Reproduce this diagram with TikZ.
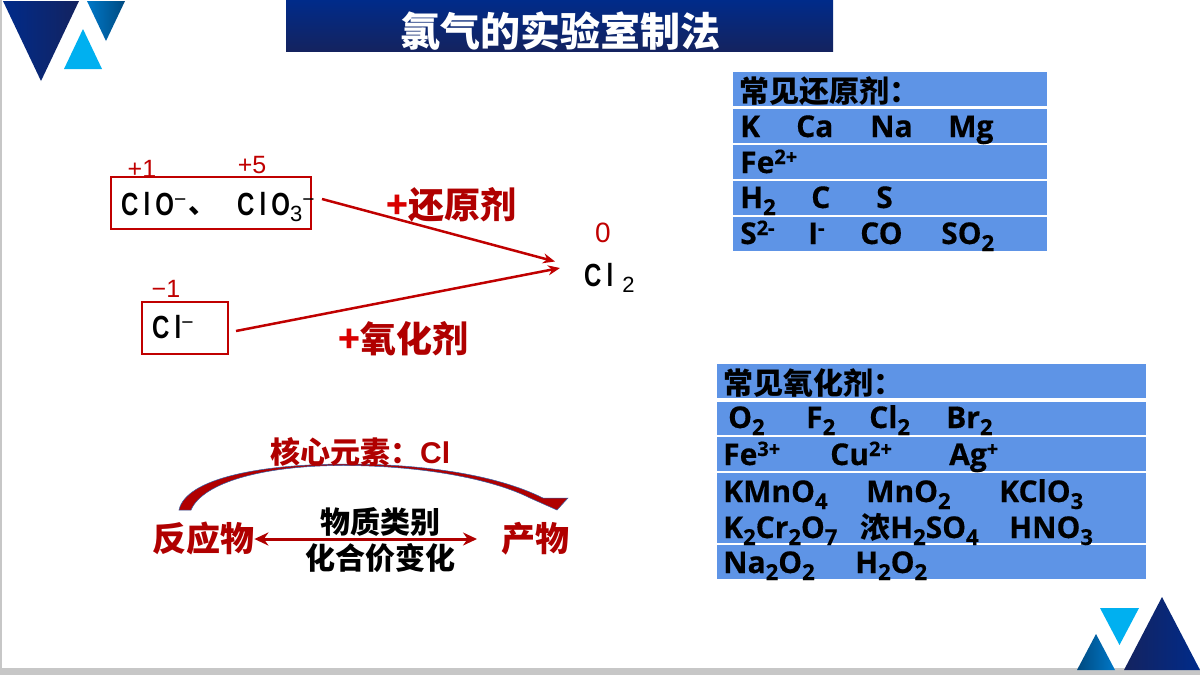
\documentclass[tikz,border=0pt]{standalone}
\usepackage{fontspec}
\setmainfont[BoldFeatures={FakeBold=0.4}]{Open Sans}
\newfontfamily\cjk{Noto Sans CJK SC}
\newfontfamily\arial{Liberation Sans}
\newfontfamily\chem[FakeStretch=0.75,LetterSpace=16]{Liberation Sans}
\usetikzlibrary{arrows.meta}
\definecolor{rowblue}{HTML}{5E94E6}
\definecolor{dred}{HTML}{C00000}
\definecolor{mred}{HTML}{B00000}
\definecolor{navyA}{HTML}{002B8A}
\definecolor{navyB}{HTML}{14235F}
\definecolor{blueA}{HTML}{0078C8}
\definecolor{blueB}{HTML}{004A80}
\definecolor{cyanT}{HTML}{00B0F0}
\definecolor{edgeblue}{HTML}{2F5FA8}
\newcommand{\dn}[1]{\raisebox{-7pt}{\fontsize{22}{22}\selectfont #1}}
\newcommand{\up}[1]{\raisebox{9pt}{\fontsize{20}{20}\selectfont #1}}
\newcommand{\chup}{\raisebox{9pt}{\fontsize{21}{21}\selectfont\arial\mdseries −}}
\newcommand{\chdn}[1]{\raisebox{-6pt}{\fontsize{22}{22}\selectfont\arial\mdseries #1}}
\tikzset{
  rowbar/.style={fill=rowblue,draw=none},
  item/.style={anchor=base west,inner sep=0pt,font=\fontsize{30}{36}\selectfont\bfseries,text=black},
  head/.style={anchor=west,inner sep=0pt,font=\fontsize{30}{36}\selectfont\cjk\bfseries,text=black},
  redlab/.style={anchor=west,inner sep=0pt,font=\fontsize{34}{40}\selectfont\cjk\bfseries,text=mred},
  agentlab/.style={anchor=west,inner sep=0pt,font=\fontsize{36}{40}\selectfont\cjk\bfseries,text=mred},
  blacklab/.style={inner sep=0pt,font=\fontsize{30}{36}\selectfont\cjk\bfseries,text=black},
  oxn/.style={inner sep=0pt,font=\fontsize{25}{30}\selectfont\arial,text=dred},
  chemtxt/.style={anchor=base west,inner sep=0pt,font=\fontsize{32}{36}\selectfont\chem\bfseries,text=black},
  redbox/.style={draw=dred,line width=1.1pt,inner sep=0pt},
  link/.style={draw=dred,line width=2.5pt,-{Stealth[length=12pt,width=10pt]}}
}
\begin{document}
\begin{tikzpicture}[x=1pt,y=-1pt]
\useasboundingbox (0,0) rectangle (1200,675);
\fill[white] (0,0) rectangle (1200,675);
% page edges
\fill[black!22] (0,0) rectangle (2,668);
\fill[black!22] (0,668) rectangle (1200,675);
% logo top left
\shade[left color=navyA,right color=navyB] (3,1) -- (79,1) -- (41,81) -- cycle;
\shade[left color=blueA,right color=blueB] (87,1) -- (125,1) -- (106,41) -- cycle;
\fill[cyanT] (64,69) -- (102,69) -- (83,29) -- cycle;
% logo bottom right
\shade[left color=navyB,right color=navyA] (1124,670) -- (1200,670) -- (1162,597) -- cycle;
\fill[cyanT] (1100,608) -- (1139,608) -- (1119.5,645) -- cycle;
\shade[left color=blueB,right color=blueA] (1077,670) -- (1115,670) -- (1096,634) -- cycle;
% title
\shade[top color=navyA,bottom color=navyB] (286,0) rectangle (833,51);
\node[inner sep=0pt,text=white,font=\fontsize{40}{44}\selectfont\cjk\bfseries] (title) at (560,31) {氯气的实验室制法};
% reducing agents table
\fill[rowbar] (733,72) rectangle (1047,106);
\fill[rowbar] (733,109) rectangle (1047,143);
\fill[rowbar] (733,145) rectangle (1047,179);
\fill[rowbar] (733,181) rectangle (1047,215);
\fill[rowbar] (733,217) rectangle (1047,251);
\node[head] (rh) at (739,91) {常见还原剂：};
\node[item] (r1) at (740,137) {K};
\node[item] (r2) at (796,137) {Ca};
\node[item] (r3) at (870,137) {Na};
\node[item] (r4) at (948,137) {Mg};
\node[item] (r5) at (740,173) {Fe\up{2+}};
\node[item] (r6) at (740,208) {H\dn{2}};
\node[item] (r7) at (811,208) {C};
\node[item] (r8) at (876,208) {S};
\node[item] (r9) at (740,244) {S\up{2-}};
\node[item] (r10) at (808,244) {I\up{-}};
\node[item] (r11) at (860,244) {CO};
\node[item] (r12) at (941,244) {SO\dn{2}};
% oxidising agents table
\fill[rowbar] (717,364) rectangle (1146,398);
\fill[rowbar] (717,402) rectangle (1146,435);
\fill[rowbar] (717,437) rectangle (1146,471);
\fill[rowbar] (717,473) rectangle (1146,543);
\fill[rowbar] (717,545) rectangle (1146,579);
\node[head] (oh) at (723,383) {常见氧化剂：};
\node[item] (o1) at (728,428) {O\dn{2}};
\node[item] (o2) at (806,428) {F\dn{2}};
\node[item] (o3) at (869,428) {Cl\dn{2}};
\node[item] (o4) at (946,428) {Br\dn{2}};
\node[item] (o5) at (723,465) {Fe\up{3+}};
\node[item] (o6) at (830,465) {Cu\up{2+}};
\node[item] (o7) at (949,465) {Ag\up{+}};
\node[item] (o8) at (723,502) {KMnO\dn{4}};
\node[item] (o9) at (866,502) {MnO\dn{2}};
\node[item] (o10) at (999,502) {KClO\dn{3}};
\node[item] (o11) at (723,538) {K\dn{2}Cr\dn{2}O\dn{7}};
\node[item] (o12) at (860,538) {{\cjk 浓}H\dn{2}SO\dn{4}};
\node[item] (o13) at (1009,538) {HNO\dn{3}};
\node[item] (o14) at (723,573) {Na\dn{2}O\dn{2}};
\node[item] (o15) at (855,573) {H\dn{2}O\dn{2}};
% redox scheme
\node[redbox,minimum width=200pt,minimum height=52pt] (box1) at (211,203) {};
\node[redbox,minimum width=86pt,minimum height=52pt] (box2) at (185,328) {};
\node[chemtxt] (clo) at (121,215) {ClO\chup};
\node[inner sep=0pt,font=\fontsize{28}{30}\selectfont\cjk\bfseries] (dun) at (202,211) {、};
\node[chemtxt] (clo3) at (237,215) {ClO\chdn{3}\chup};
\node[chemtxt] (cl) at (152,338) {Cl\chup};
\node[chemtxt] (cl2) at (584,286) {Cl\hspace{9pt}\chdn{2}};
\node[oxn] (p1) at (142,169) {+1};
\node[oxn] (p5) at (252,165) {+5};
\node[oxn] (m1) at (166,289) {−1};
\node[oxn,font=\fontsize{28}{30}\selectfont\arial] (z0) at (603,233) {0};
\coordinate (a1) at (322,199);
\coordinate (a1e) at (555,261.5);
\coordinate (a2) at (236,331);
\coordinate (a2e) at (560,268);
\draw[link] (a1) -- (a1e);
\draw[link] (a2) -- (a2e);
\node[agentlab] (rd) at (386,205) {{\color{red!85!black}+}还原剂};
\node[agentlab] (ox) at (338,339) {{\color{red!85!black}+}氧化剂};
% lower scheme
\draw[fill=mred,draw=edgeblue,line width=0.5pt]
  (179,510) .. controls (186,478) and (262,464) .. (347,464)
  .. controls (420,464) and (495,474) .. (543,498)
  -- (568,498) -- (557,510) -- (530,498)
  .. controls (490,478) and (420,466) .. (347,465.5)
  .. controls (265,465) and (203,482) .. (191,510) -- cycle;
\node[redlab,font=\fontsize{30}{36}\selectfont\cjk\bfseries] (core) at (270,452) {核心元素：{\arial\bfseries Cl}};
\node[redlab] (react) at (152,539) {反应物};
\node[redlab] (prod) at (501,539) {产物};
\coordinate (dbl) at (477,539);
\draw[draw=mred,line width=3pt,{Stealth[length=14pt,width=13pt]}-{Stealth[length=14pt,width=13pt]}] (react.east) -- (dbl);
\node[blacklab] (lab1) at (380,522) {物质类别};
\node[blacklab] (lab2) at (380,558) {化合价变化};
\end{tikzpicture}
\end{document}
